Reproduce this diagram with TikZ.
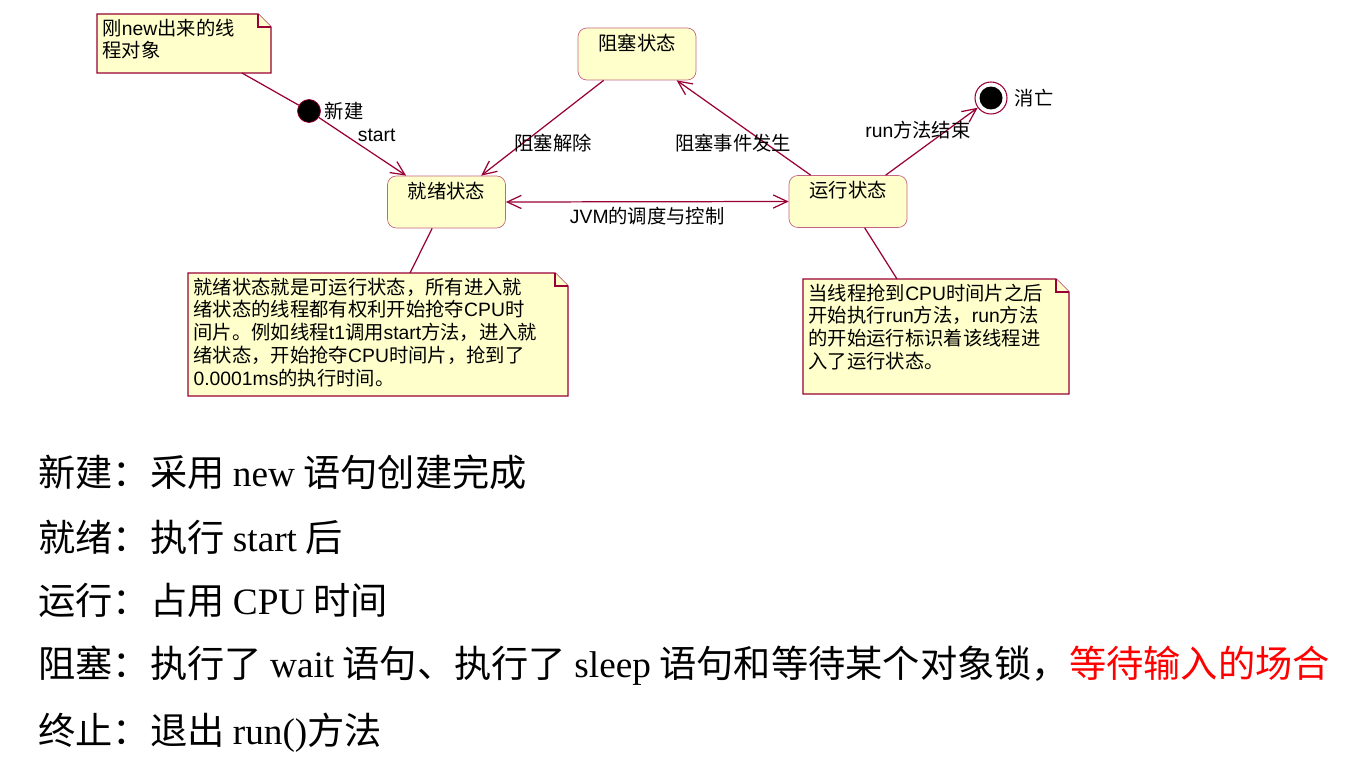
\documentclass[tikz,border=0pt]{standalone}
\usepackage{fontspec}
\setmainfont{Liberation Serif}
\setsansfont{Liberation Sans}
\newfontfamily\cjk{Noto Sans CJK SC}
\usetikzlibrary{arrows.meta, positioning, calc, backgrounds}
\definecolor{umlred}{RGB}{153, 0, 51}
\definecolor{stateborder}{RGB}{196, 100, 130}
\definecolor{noteyellow}{RGB}{255, 255, 204}
\definecolor{hotred}{RGB}{255, 0, 0}

\newcommand{\foldsize}{0.26cm}
\newcommand{\ar}[1]{{\sffamily #1}}
% draws the dog-eared note box behind the text node #1 (width #2, height #3)
\newcommand{\notebox}[3]{%
  \begin{pgfonlayer}{background}
    \path (#1.north west) coordinate (#1-nw) ++(#2,0) coordinate (#1-ne)
          ++(0,#3) coordinate (#1-se) ++(-#2,0) coordinate (#1-sw);
    \filldraw[noteline] (#1-nw) -- ([xshift=-\foldsize]#1-ne) -- ([yshift=-\foldsize]#1-ne)
          -- (#1-se) -- (#1-sw) -- cycle;
    \draw[noteline] ([xshift=-\foldsize]#1-ne) |- ([yshift=-\foldsize]#1-ne);
  \end{pgfonlayer}}

\begin{document}
\begin{tikzpicture}[x=0.02cm, y=-0.02cm,
    font=\cjk\fontsize{11}{13}\selectfont,
    state/.style={draw=stateborder, fill=noteyellow, rounded corners=5pt,
      minimum width=2.36cm, minimum height=1.04cm, inner sep=0pt},
    statename/.style={anchor=north, inner sep=0pt, yshift=-0.12cm},
    noteline/.style={draw=umlred, fill=noteyellow, line width=0.7pt},
    notetext/.style={anchor=north west, align=left, inner xsep=3pt, inner ysep=2.5pt},
    umlline/.style={draw=umlred, line width=0.7pt},
    trans/.style={umlline, -{Straight Barb[length=8pt,width=7.5pt]}},
    lbl/.style={inner sep=2pt},
    bigline/.style={anchor=base west, inner sep=0pt, font=\cjk\fontsize{21.2}{21}\selectfont}]
  \useasboundingbox (0,0) rectangle (1351,770);

  % states
  \node[state] (ready) at (446.5,202) {};
  \node[statename] at (ready.north) {就绪状态};
  \node[state] (blocked) at (637,54) {};
  \node[statename] at (blocked.north) {阻塞状态};
  \node[state] (running) at (848,201.5) {};
  \node[statename] at (running.north) {运行状态};

  % start / end
  \node[circle, fill=black, draw=umlred, minimum size=0.46cm, inner sep=0pt,
        label={[lbl]right:新建}] (init) at (309,111) {};
  \node[circle, fill=white, draw=umlred, line width=0.6pt, minimum size=0.64cm, inner sep=0pt,
        label={[lbl, xshift=2pt]right:消亡}] (final) at (991,98) {};
  \fill (final) circle (0.23cm);

  % notes
  \node[notetext] (newnote) at (97,14) {刚\ar{new}出来的线\\程对象};
  \notebox{newnote}{174}{59}
  \node[notetext] (readynote) at (188,273) {就绪状态就是可运行状态，所有进入就\\绪状态的线程都有权利开始抢夺\ar{CPU}时\\间片。例如线程\ar{t1}调用\ar{start}方法，进入就\\绪状态，开始抢夺\ar{CPU}时间片，抢到了\\\ar{0.0001ms}的执行时间。};
  \notebox{readynote}{380}{123}
  \node[notetext] (runnote) at (803,279) {当线程抢到\ar{CPU}时间片之后\\开始执行\ar{run}方法，\ar{run}方法\\的开始运行标识着该线程进\\入了运行状态。};
  \notebox{runnote}{266}{115}

  % transitions
  \draw[trans] (init) -- ($(ready.north west)+(19,0)$)
    node[lbl, pos=0.4, above right, yshift=-3pt] {\ar{start}};
  \draw[trans] ($(blocked.south west)+(26,0)$) -- ($(ready.north west)+(94,0)$);
  \node[lbl] at (553,143) {阻塞解除};
  \draw[trans] ($(running.north west)+(22,0)$) -- ($(blocked.south west)+(99,0)$);
  \node[lbl] at (733,143) {阻塞事件发生};
  \draw[umlline, {Straight Barb[length=8pt,width=7.5pt]}-{Straight Barb[length=8pt,width=7.5pt]}]
    (ready.east) -- (running.west) node[lbl, midway, below=1pt] {\ar{JVM}的调度与控制};
  \draw[trans] ($(running.north west)+(97,0)$) -- (final);
  \node[lbl] at (918,130) {\ar{run}方法结束};

  % note anchors
  \draw[umlline] ($(newnote-sw)+(145,0)$) -- (init);
  \draw[umlline] ($(ready.south west)+(45,0)$) -- ($(readynote-nw)+(222,0)$);
  \draw[umlline] ($(running.south west)+(76,0)$) -- ($(runnote-nw)+(94,0)$);

  % summary
  \node[bigline] (lnew) at (38,486) {新建：采用 {\rmfamily new} 语句创建完成};
  \node[bigline] (lready) at (38,551) {就绪：执行 {\rmfamily start} 后};
  \node[bigline] (lrun) at (38,614) {运行：占用 {\rmfamily CPU} 时间};
  \node[bigline] (lblock) at (38,677) {阻塞：执行了 {\rmfamily wait} 语句、执行了 {\rmfamily sleep} 语句和等待某个对象锁，\textcolor{hotred}{等待输入的场合}};
  \node[bigline] (lend) at (38,744) {终止：退出 {\rmfamily run()}方法};
\end{tikzpicture}
\end{document}
